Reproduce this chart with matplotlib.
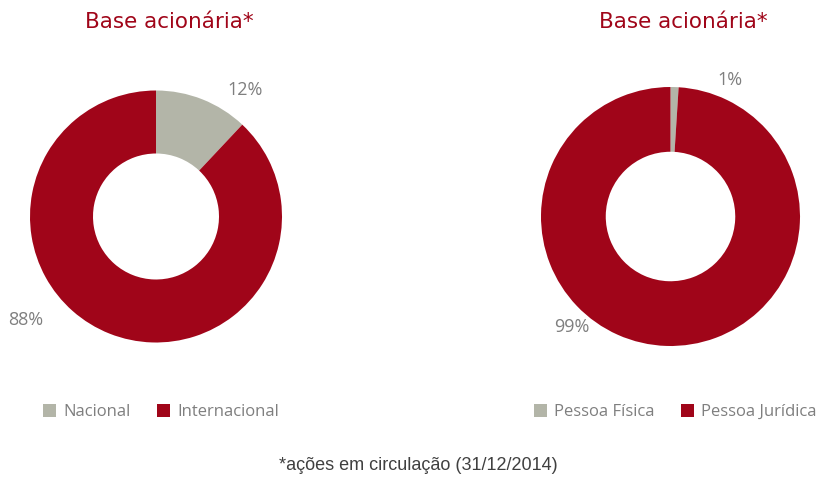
import matplotlib
matplotlib.use('Agg')
import matplotlib.pyplot as plt
from matplotlib.patches import Patch

# data
titles = ['Base acionária*', 'Base acionária*']
left_labels = ['Nacional', 'Internacional']
left_values = [12, 88]
right_labels = ['Pessoa Física', 'Pessoa Jurídica']
right_values = [1, 99]
footnote = '*ações em circulação (31/12/2014)'

red = '#A00519'
grey = '#B3B5A8'
label_grey = '#7F7F7F'
W, H = 816, 479

fig = plt.figure(figsize=(W / 100, H / 100), dpi=100)


def donut(cx, cy, r, values, labels, label_pos, title, title_x, legend_x):
    ax = fig.add_axes([(cx - r) / W, 1 - (cy + r) / H, 2 * r / W, 2 * r / H])
    ax.pie(values, colors=[grey, red], startangle=90, counterclock=False,
           radius=1, wedgeprops=dict(width=0.5, linewidth=0))
    ax.set_xlim(-1, 1)
    ax.set_ylim(-1, 1)
    ax.set_aspect('equal')
    ax.axis('off')
    for v, (x, y) in zip(values, label_pos):
        ax.text(x, y, f'{v}%', ha='center', va='center', fontsize=13,
                color=label_grey, family='Open Sans', clip_on=False)
    fig.text(title_x / W, 1 - 22 / H, title, ha='center', va='center',
             fontsize=15.5, color=red, family='DejaVu Sans')
    handles = [Patch(facecolor=c, edgecolor='none') for c in [grey, red]]
    fig.legend(handles, labels, loc='center', ncol=2,
               bbox_to_anchor=(legend_x / W, 1 - 412 / H), frameon=False,
               prop=dict(family='Open Sans', size=12), labelcolor=label_grey,
               handlelength=0.8, handleheight=0.8, handletextpad=0.4,
               columnspacing=1.6)


donut(156, 216.5, 126, left_values, left_labels,
      [(0.706, 1.0), (-1.036, -0.821)], titles[0], 169, 161)
donut(670.5, 216.5, 129.5, right_values, right_labels,
      [(0.463, 1.054), (-0.764, -0.853)], titles[1], 683, 675)

fig.text(418 / W, 1 - 466 / H, footnote, ha='center', va='center',
         fontsize=13, color='#404040', family='Liberation Sans')

fig.savefig('out.png', dpi=100)
